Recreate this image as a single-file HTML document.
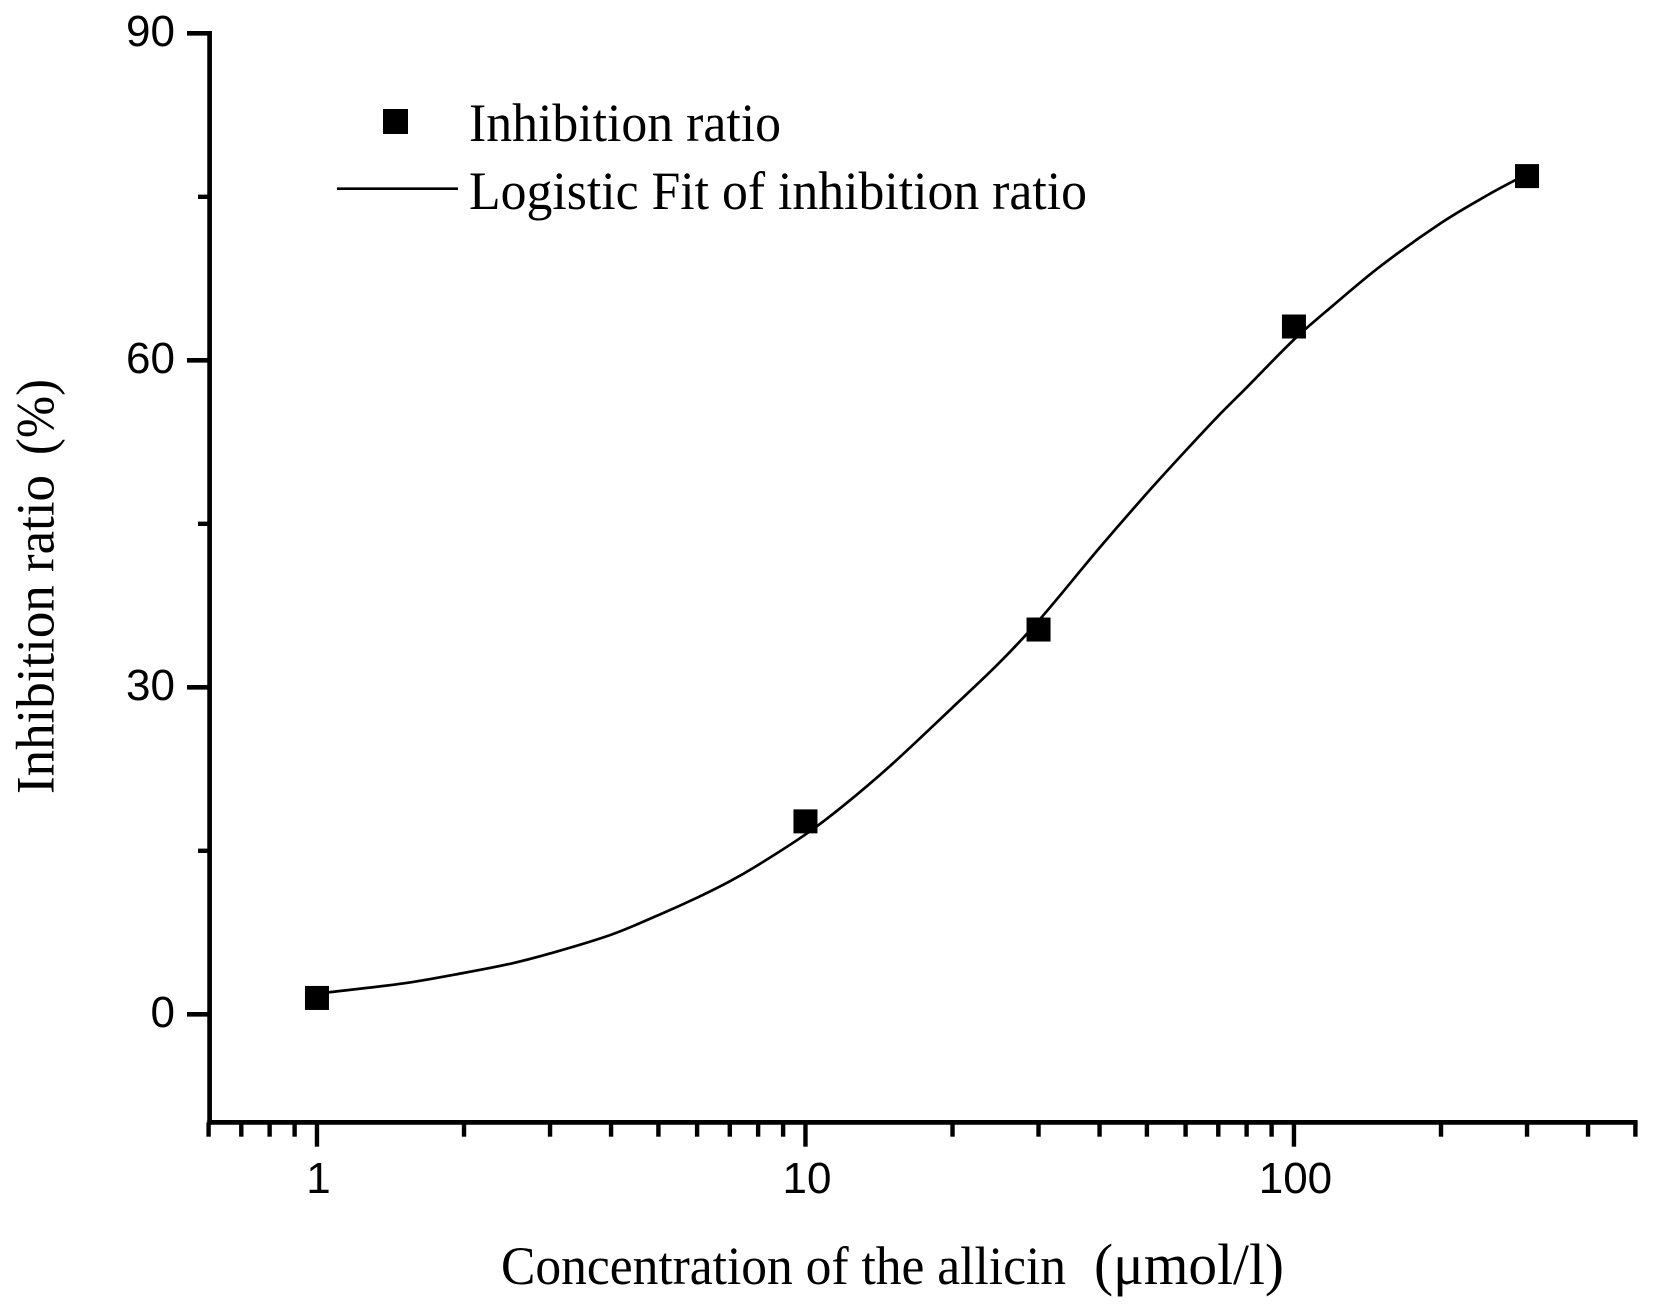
<!DOCTYPE html>
<html lang="en">
<head>
<meta charset="utf-8">
<title>Inhibition ratio vs allicin concentration</title>
<style>
html,body{margin:0;padding:0;background:#fff;width:1654px;height:1310px;overflow:hidden}
svg{display:block}
.serif{font-family:"Liberation Serif",serif;fill:#000}
.sans{font-family:"Liberation Sans",sans-serif;fill:#000}
</style>
</head>
<body>
<svg id="chart" width="1654" height="1310" viewBox="0 0 1654 1310" xmlns="http://www.w3.org/2000/svg">
  <rect width="1654" height="1310" fill="#fff"/>
  <g id="axes"></g>
  <path id="fit" fill="none" stroke="#000" stroke-width="2.7"/>
  <g id="points"></g>
  <g>
    <rect x="383" y="109" width="25" height="25" fill="#000"/>
    <text class="serif" x="469" y="141" font-size="54" textLength="312" lengthAdjust="spacingAndGlyphs">Inhibition ratio</text>
    <line x1="337" y1="188.7" x2="458" y2="188.7" stroke="#000" stroke-width="2.7"/>
    <text class="serif" x="469" y="209" font-size="54" textLength="618" lengthAdjust="spacingAndGlyphs">Logistic Fit of inhibition ratio</text>
  </g>
  <text class="serif" x="501" y="1284" font-size="54" textLength="565" lengthAdjust="spacingAndGlyphs">Concentration of the allicin</text>
  <text class="serif" x="1094" y="1284" font-size="58" textLength="190" lengthAdjust="spacingAndGlyphs">(μmol/l)</text>
  <text class="serif" transform="translate(53.5 794) rotate(-90)" font-size="54" textLength="319" lengthAdjust="spacingAndGlyphs">Inhibition ratio</text>
  <text class="serif" transform="translate(53.5 455) rotate(-90)" font-size="54" textLength="76" lengthAdjust="spacingAndGlyphs">(%)</text>
</svg>
<script>
var pointConcentrations = [1, 10, 30, 100, 300];
var pointInhibition = [1.5, 17.7, 35.3, 63.1, 76.9];
var fitConcentrations = [1, 1.5, 2, 2.5, 3, 4, 5, 6, 7, 8, 10, 12, 15, 20, 25, 30, 40, 50, 60, 70, 80, 100, 120, 150, 200, 250, 300];
var fitInhibition = [1.9, 2.83, 3.8, 4.66, 5.58, 7.3, 9.1, 10.7, 12.2, 13.7, 16.5, 19.2, 22.9, 28.15, 32.3, 36.1, 42.8, 47.8, 51.7, 54.9, 57.5, 61.9, 65.0, 68.6, 72.6, 75.2, 77.1];
var xMajorTicks = [1, 10, 100];
var xMajorLabels = ["1", "10", "100"];
var xMinorTicks = [0.6, 0.7, 0.8, 0.9, 2, 3, 4, 5, 6, 7, 8, 9, 20, 30, 40, 50, 60, 70, 80, 90, 200, 300, 400, 500];
var yMajorTicks = [0, 30, 60, 90];
var yMajorLabels = ["0", "30", "60", "90"];
var yMinorTicks = [15, 45, 75];
var xDomain = [0.6, 500];
var yDomain = [-10, 90];

var NS = "http://www.w3.org/2000/svg";
var plotLeft = 208.6, plotRight = 1635.4, plotBottom = 1123.3, plotTop = 33.3;
var axisX = 209.6, axisY = 1122.4;

function sx(v) {
  var a = Math.log10(xDomain[0]), b = Math.log10(xDomain[1]);
  return plotLeft + (Math.log10(v) - a) / (b - a) * (plotRight - plotLeft);
}
function sy(v) {
  return plotBottom - (v - yDomain[0]) / (yDomain[1] - yDomain[0]) * (plotBottom - plotTop);
}
function line(parent, x1, y1, x2, y2, w) {
  var el = document.createElementNS(NS, "line");
  el.setAttribute("x1", x1);
  el.setAttribute("y1", y1);
  el.setAttribute("x2", x2);
  el.setAttribute("y2", y2);
  el.setAttribute("stroke", "#000");
  el.setAttribute("stroke-width", w);
  parent.appendChild(el);
  return el;
}
function label(parent, x, y, anchor, str) {
  var el = document.createElementNS(NS, "text");
  el.setAttribute("x", x);
  el.setAttribute("y", y);
  el.setAttribute("text-anchor", anchor);
  el.setAttribute("font-size", "44");
  el.setAttribute("class", "sans");
  el.textContent = str;
  parent.appendChild(el);
  return el;
}

var axes = document.getElementById("axes");
var el;

el = line(axes, axisX, plotTop - 2.3, axisX, axisY + 2.3, 4.7);


el = line(axes, axisX - 2.3, axisY, plotRight + 2.2, axisY, 4.7);



yMajorTicks.forEach(function (v, i) {
  var t = line(axes, 187, sy(v), axisX, sy(v), 4.7);
  
  
  var l = label(axes, 175, sy(v) + 12.8, "end", yMajorLabels[i]);
  
  
});
yMinorTicks.forEach(function (v) {
  var t = line(axes, 198, sy(v), axisX, sy(v), 4.4);
  
  
});
xMajorTicks.forEach(function (v, i) {
  var t = line(axes, sx(v), axisY, sx(v), 1146.7, 4.4);
  
  
  var l = label(axes, sx(v) + 1.5, 1193, "middle", xMajorLabels[i]);
  
  
});
xMinorTicks.forEach(function (v) {
  var t = line(axes, sx(v), axisY, sx(v), 1136.7, 4.4);
  
  
});

var fx = fitConcentrations.map(sx);
var fy = fitInhibition.map(sy);
function slope(i) {
  var a = Math.max(i - 1, 0), b = Math.min(i + 1, fx.length - 1);
  return (fy[b] - fy[a]) / (fx[b] - fx[a]);
}
var d = "M" + fx[0].toFixed(2) + " " + fy[0].toFixed(2);
for (var i = 0; i < fx.length - 1; i++) {
  var h = (fx[i + 1] - fx[i]) / 3;
  d += " C" + (fx[i] + h).toFixed(2) + " " + (fy[i] + slope(i) * h).toFixed(2) +
       " " + (fx[i + 1] - h).toFixed(2) + " " + (fy[i + 1] - slope(i + 1) * h).toFixed(2) +
       " " + fx[i + 1].toFixed(2) + " " + fy[i + 1].toFixed(2);
}
document.getElementById("fit").setAttribute("d", d);

var points = document.getElementById("points");
pointConcentrations.forEach(function (c, i) {
  var r = document.createElementNS(NS, "rect");
  r.setAttribute("x", sx(c) - 12);
  r.setAttribute("y", sy(pointInhibition[i]) - 12);
  r.setAttribute("width", 24);
  r.setAttribute("height", 24);
  r.setAttribute("fill", "#000");
  
  
  points.appendChild(r);
});
</script>
</body>
</html>
